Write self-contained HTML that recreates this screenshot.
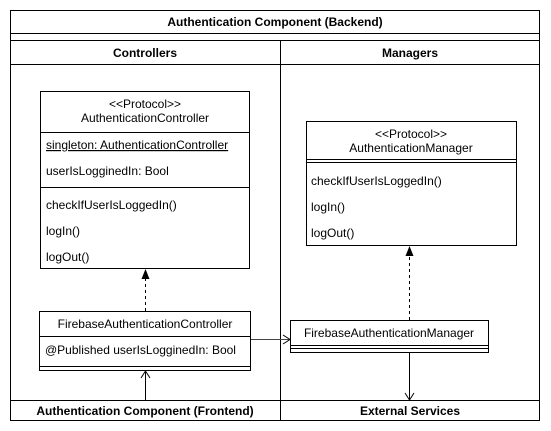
<!DOCTYPE html>
<html><head><style>
html,body{margin:0;padding:0;background:#fff;}
svg{display:block;}
text{font-family:"Liberation Sans",Helvetica,Arial,sans-serif;font-size:12px;fill:#000;}
.b{font-weight:bold;font-size:12px;}
</style></head><body>
<svg width="551" height="431" viewBox="0 0 551 431" xmlns="http://www.w3.org/2000/svg">
<g fill="none" stroke="#000" stroke-width="1">
<rect x="10.5" y="10.5" width="529" height="410"/>
<line x1="10" y1="33.5" x2="540" y2="33.5"/>
<line x1="10" y1="40.5" x2="540" y2="40.5"/>
<line x1="10" y1="64.5" x2="540" y2="64.5"/>
<line x1="280.5" y1="40" x2="280.5" y2="420"/>
<line x1="10" y1="400.5" x2="540" y2="400.5"/>
<rect x="40.5" y="91.5" width="209" height="177"/>
<line x1="40" y1="132.5" x2="250" y2="132.5"/>
<line x1="40" y1="187.5" x2="250" y2="187.5"/>
<rect x="306.5" y="121.5" width="210" height="124"/>
<line x1="306" y1="159.5" x2="517" y2="159.5"/>
<line x1="306" y1="162.5" x2="517" y2="162.5"/>
<rect x="39.5" y="311.5" width="211" height="59"/>
<line x1="39" y1="336.5" x2="251" y2="336.5"/>
<line x1="39" y1="366.5" x2="251" y2="366.5"/>
<rect x="290.5" y="320.5" width="198" height="32"/>
<line x1="290" y1="345.5" x2="489" y2="345.5"/>
<line x1="290" y1="348.5" x2="489" y2="348.5"/>
<line x1="145.5" y1="311" x2="145.5" y2="278" stroke-dasharray="3,3"/>
<line x1="409.5" y1="320" x2="409.5" y2="255" stroke-dasharray="3,3"/>
<line x1="251" y1="339.5" x2="289" y2="339.5" stroke="#444"/>
<polyline points="283,335 290,339.5 283,344"/>
<line x1="145.5" y1="400" x2="145.5" y2="372"/>
<polyline points="141,378 145.5,371 150,378"/>
<line x1="409.5" y1="353" x2="409.5" y2="399"/>
<polyline points="405,393 409.5,400 414,393"/>
</g>
<polygon points="145.5,269 141.5,279 149.5,279" fill="#000"/>
<polygon points="409.5,246 405.5,256 413.5,256" fill="#000"/>
<text class="b" x="275" y="26" text-anchor="middle">Authentication Component (Backend)</text>
<text class="b" x="145" y="57" text-anchor="middle">Controllers</text>
<text class="b" x="410" y="57" text-anchor="middle">Managers</text>
<text class="b" x="145" y="415" text-anchor="middle">Authentication Component (Frontend)</text>
<text class="b" x="410" y="415" text-anchor="middle">External Services</text>
<text x="145" y="108" text-anchor="middle">&lt;&lt;Protocol&gt;&gt;</text>
<text x="145" y="122" text-anchor="middle">AuthenticationController</text>
<text x="46" y="149" text-decoration="underline">singleton: AuthenticationController</text>
<text x="46" y="175">userIsLogginedIn: Bool</text>
<text x="46" y="209">checkIfUserIsLoggedIn()</text>
<text x="46" y="235">logIn()</text>
<text x="46" y="261">logOut()</text>
<text x="411" y="138" text-anchor="middle">&lt;&lt;Protocol&gt;&gt;</text>
<text x="411" y="152" text-anchor="middle">AuthenticationManager</text>
<text x="311" y="185">checkIfUserIsLoggedIn()</text>
<text x="311" y="211">logIn()</text>
<text x="311" y="237">logOut()</text>
<text x="145" y="328" text-anchor="middle">FirebaseAuthenticationController</text>
<text x="45" y="354">@Published userIsLogginedIn: Bool</text>
<text x="389" y="337" text-anchor="middle">FirebaseAuthenticationManager</text>
</svg>
</body></html>
